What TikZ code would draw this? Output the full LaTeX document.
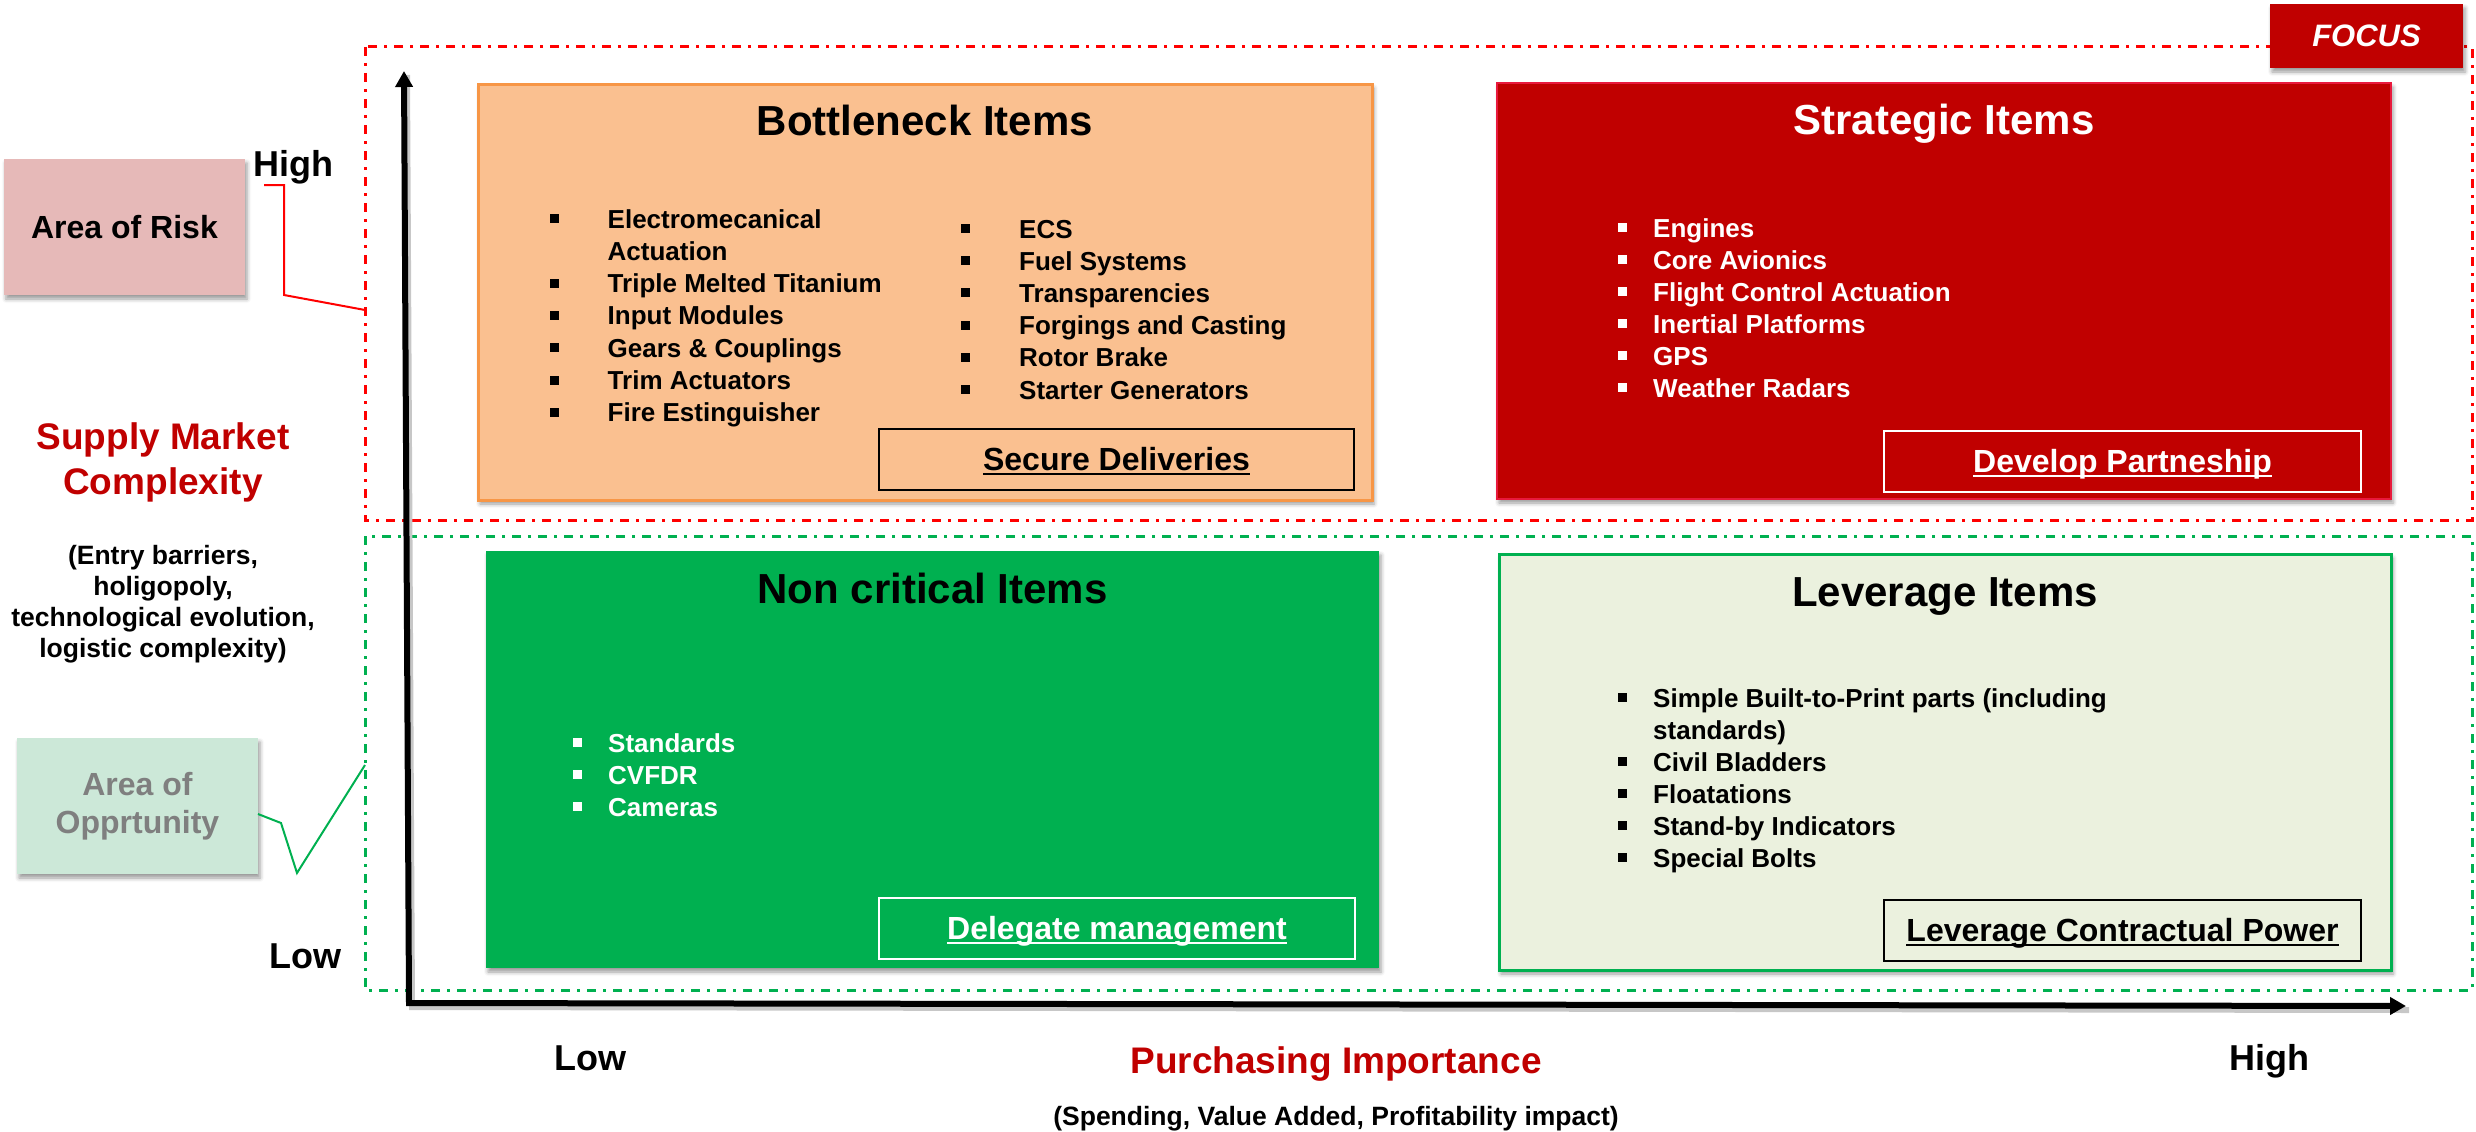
\documentclass[tikz,border=0pt]{standalone}
\usepackage{fontspec}
\setmainfont{Liberation Sans}
\usetikzlibrary{arrows.meta,shadows.blur}
\definecolor{redD}{HTML}{C00000}
\definecolor{redL}{HTML}{FF0000}
\definecolor{grn}{HTML}{00B050}
\definecolor{orgF}{HTML}{FAC090}
\definecolor{orgB}{HTML}{F79646}
\definecolor{levF}{HTML}{EBF1DE}
\definecolor{riskF}{HTML}{E6B9B8}
\definecolor{oppF}{HTML}{CCE8D8}
\definecolor{oppT}{HTML}{7F7F7F}
\definecolor{strB}{HTML}{E8193C}
\newcommand\fsz[2]{\fontsize{#1}{#2}\selectfont}
\newcommand\bul{\rule[5pt]{9pt}{9pt}}
\newcommand\bi[2]{\makebox[#1][l]{\bul}#2}
\newcommand\ulx[1]{\leavevmode\setbox0\hbox{#1}\rlap{\rule[-4.5pt]{\wd0}{1.8pt}}\box0}
\tikzset{
  shd/.style={blur shadow={shadow xshift=2pt, shadow yshift=-4pt, shadow blur radius=4pt, shadow opacity=40}},
  quadbox/.style={inner sep=0, shd},
  ttl/.style={anchor=base, inner sep=0, font=\bfseries\fsz{42}{50}},
  itm/.style={anchor=base west, inner sep=0, font=\bfseries\fsz{26}{32}},
  actbox/.style={line width=2pt, inner sep=0, minimum height=61pt, text height=24pt, text depth=2pt, font=\bfseries\fsz{32}{38}},
  axlbl/.style={anchor=base, inner sep=0, font=\bfseries\fsz{36}{43}},
  area/.style={inner sep=0, minimum width=241pt, minimum height=136pt, font=\bfseries\fsz{32}{38}, align=center, shd},
  zone/.style={line width=3pt, dash pattern=on 9pt off 7pt on 3pt off 7pt},
}
\begin{document}
\begin{tikzpicture}[x=1pt,y=-1pt]
\useasboundingbox (0,0) rectangle (2476,1132);

% dashed zones
\draw[zone, redL] (365,47) rectangle (2472,520);
\draw[zone, grn] (365,536) rectangle (2472,990);

% quadrants
\node[quadbox, fill=orgF, draw=orgB, line width=3pt, minimum width=894pt, minimum height=416pt] (bott) at (925,292) {};
\node[quadbox, fill=redD, draw=strB, line width=2pt, minimum width=894pt, minimum height=416pt] (strat) at (1944,291) {};
\node[quadbox, fill=grn, minimum width=893pt, minimum height=417pt] (noncr) at (932.5,759.5) {};
\node[quadbox, fill=levF, draw=grn, line width=3pt, minimum width=892pt, minimum height=416pt] (lever) at (1945,762) {};

% titles
\node[ttl] (tbott) at (925,135) {Bottleneck Items};
\node[ttl, text=white] (tstrat) at (1944,134) {Strategic Items};
\node[ttl] (tnoncr) at (932.5,603) {Non critical Items};
\node[ttl] (tlever) at (1945,606) {Leverage Items};

% items
\foreach \t [count=\i from 0] in {{\bi{58pt}{Electromecanical}},{\hspace*{58pt}Actuation},{\bi{58pt}{Triple Melted Titanium}},{\bi{58pt}{Input Modules}},{\bi{58pt}{Gears \& Couplings}},{\bi{58pt}{Trim Actuators}},{\bi{58pt}{Fire Estinguisher}}}
  \node[itm] (bl\i) at (549.5,{228+32.3*\i}) {\t};
\foreach \t [count=\i from 0] in {ECS,Fuel Systems,Transparencies,Forgings and Casting,Rotor Brake,Starter Generators}
  \node[itm] (br\i) at (961,{238+32.2*\i}) {\bi{58pt}{\t}};
\foreach \t [count=\i from 0] in {Engines,Core Avionics,Flight Control Actuation,Inertial Platforms,GPS,Weather Radars}
  \node[itm, text=white] (st\i) at (1617.5,{237+32*\i}) {\bi{35.5pt}{\t}};
\foreach \t [count=\i from 0] in {Standards,CVFDR,Cameras}
  \node[itm, text=white] (nc\i) at (572.5,{752+32*\i}) {\bi{35.5pt}{\t}};
\foreach \t [count=\i from 0] in {{\bi{35.5pt}{Simple Built-to-Print parts (including}},{\hspace*{35.5pt}standards)},{\bi{35.5pt}{Civil Bladders}},{\bi{35.5pt}{Floatations}},{\bi{35.5pt}{Stand-by Indicators}},{\bi{35.5pt}{Special Bolts}}}
  \node[itm] (lv\i) at (1617.5,{707+32*\i}) {\t};

% action boxes
\node[actbox, draw=black, minimum width=475pt] (secure) at (1116.5,459.5) {\ulx{Secure Deliveries}};
\node[actbox, draw=white, text=white, minimum width=477pt] (develop) at (2122.5,461.5) {\ulx{Develop Partneship}};
\node[actbox, draw=white, text=white, minimum width=476pt] (delegate) at (1117,928) {\ulx{Delegate management}};
\node[actbox, draw=black, minimum width=477pt] (levcp) at (2122.5,930.5) {\ulx{Leverage Contractual Power}};

% axes
\coordinate (ytip) at (404,71);
\coordinate (orig) at (409,1003);
\coordinate (xtip) at (2406,1006);
\draw[line width=6pt, black!22, transform canvas={shift={(3pt,-4pt)}}] (ytip) -- (orig) -- (xtip);
\draw[line width=6pt, line join=miter, {Triangle[length=16pt,width=17pt]}-{Triangle[length=16pt,width=17pt]}] (ytip) -- (orig) -- (xtip);

% axis labels
\node[axlbl] (yhigh) at (293,176) {High};
\node[axlbl] (ylow) at (305,968) {Low};
\node[axlbl] (xlow) at (590,1070) {Low};
\node[axlbl] (xhigh) at (2269,1070) {High};
\node[anchor=base, inner sep=0, text=redD, font=\bfseries\fsz{37}{45}] (xtitle) at (1336,1073) {Purchasing Importance};
\node[anchor=base, inner sep=0, font=\bfseries\fsz{26.5}{31}] (xsub) at (1336,1125) {(Spending, Value Added, Profitability impact)};
\node[inner sep=0, align=center, text=redD, font=\bfseries\fsz{37}{45}] (ytitle) at (163,462) {Supply Market\\Complexity};
\node[inner sep=0, align=center, font=\bfseries\fsz{26.5}{31}] (ysub) at (163,604) {(Entry barriers,\\holigopoly,\\technological evolution,\\logistic complexity)};

% area callouts
\node[area, fill=riskF] (risk) at (124.5,227) {Area of Risk};
\node[area, fill=oppF, text=oppT] (opp) at (137.5,806) {Area of\\Opprtunity};
\coordinate (riskA) at (264,185);
\coordinate (riskB) at (284,185);
\coordinate (riskC) at (284,295);
\coordinate (riskD) at (365,310);
\draw[redL, line width=2pt] (riskA) -- (riskB) -- (riskC) -- (riskD);
\coordinate (oppA) at (258,814);
\coordinate (oppB) at (281,823);
\coordinate (oppC) at (297,873);
\coordinate (oppD) at (365,765);
\draw[grn, line width=2pt] (oppA) -- (oppB) -- (oppC) -- (oppD);

% focus tag
\node[fill=redD, inner sep=0, minimum width=193pt, minimum height=64pt, text=white, font=\bfseries\itshape\fsz{31}{37}, shd] (focus) at (2366.5,36) {FOCUS};
\end{tikzpicture}
\end{document}
